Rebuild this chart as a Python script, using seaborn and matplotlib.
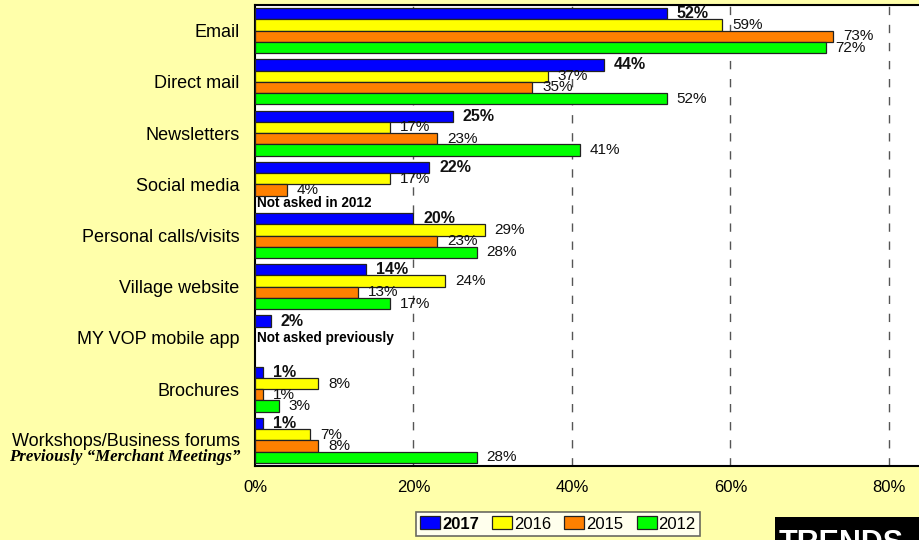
import numpy as np
import pandas as pd
import seaborn as sns
import matplotlib.pyplot as plt
from matplotlib.patches import Rectangle

channels = ['Email', 'Direct mail', 'Newsletters', 'Social media',
            'Personal calls/visits', 'Village website', 'MY VOP mobile app',
            'Brochures', 'Workshops/Business forums']
years = ['2017', '2016', '2015', '2012']
v2017 = [52, 44, 25, 22, 20, 14, 2, 1, 1]
v2016 = [59, 37, 17, 17, 29, 24, None, 8, 7]
v2015 = [73, 35, 23, 4, 23, 13, None, 1, 8]
v2012 = [72, 52, 41, None, 28, 17, None, 3, 28]
colors = ['#0000FF', '#FFFF00', '#FF8000', '#00FF00']
xticks = [0, 20, 40, 60, 80]

rows = []
for yr, vals in zip(years, [v2017, v2016, v2015, v2012]):
    for ch, v in zip(channels, vals):
        rows.append({'channel': ch, 'year': yr, 'pct': v})
df = pd.DataFrame(rows).dropna()

plt.rcParams['font.family'] = ['Liberation Sans', 'DejaVu Sans']

fig = plt.figure(figsize=(9.19, 5.40), dpi=100, facecolor='#FFFFAA')
ax = fig.add_axes([255 / 919, 1 - 466 / 540, 1 - 255 / 919, (466 - 5) / 540])

sns.barplot(data=df, y='channel', x='pct', hue='year', order=channels,
            hue_order=years, palette=colors, orient='h', width=0.88,
            edgecolor='#222222', linewidth=0.9, saturation=1, ax=ax,
            legend=True, zorder=3)

ax.set_facecolor('white')
ax.set_xlim(0, 83.8)
ax.set_ylim(len(channels) - 0.5, -0.5)
ax.set_xticks(xticks)
ax.set_xticklabels([f'{t}%' for t in xticks], fontsize=12)
ax.tick_params(axis='x', length=0, pad=10)
ax.set_yticks(range(len(channels)))
ax.set_yticklabels(channels[:-1] + [''])
ax.tick_params(axis='y', length=0, pad=11, labelsize=13)
ax.set_xlabel('')
ax.set_ylabel('')
for t in xticks[1:]:
    ax.axvline(t, color='#555555', lw=1, ls=(0, (6, 7)), zorder=1)
for s in ['top', 'left', 'bottom']:
    ax.spines[s].set_color('black')
    ax.spines[s].set_linewidth(1.5)
ax.spines['right'].set_visible(False)

for i, c in enumerate(ax.containers):
    bold = i == 0
    ax.bar_label(c, fmt='{:.0f}%', padding=7,
                 fontsize=11.5 if bold else 11,
                 fontweight='bold' if bold else 'normal', color='#111111')

ax.text(0.3, 3.36, 'Not asked in 2012', fontsize=9.8, fontweight='bold',
        va='center', ha='left', zorder=5)
ax.text(0.3, 6.0, 'Not asked previously', fontsize=9.8, fontweight='bold',
        va='center', ha='left', zorder=5)

# two-line label for the last category
ax.text(-0.0225, 8.02, channels[-1], transform=ax.get_yaxis_transform(),
        ha='right', va='center', fontsize=13)
ax.text(-0.0225, 8.32, 'Previously \u201cMerchant Meetings\u201d',
        transform=ax.get_yaxis_transform(), ha='right', va='center',
        fontsize=12.2, fontweight='bold', fontstyle='italic',
        family=['Liberation Serif', 'DejaVu Serif'])

leg = ax.legend(loc='center', bbox_to_anchor=(558 / 919, 1 - 524 / 540),
                bbox_transform=fig.transFigure, ncol=4, frameon=True,
                fancybox=False, edgecolor='#444444', fontsize=12,
                handlelength=1.2, handleheight=0.8, handletextpad=0.1,
                columnspacing=0.8, borderpad=0.25, title=None)
leg.get_frame().set_linewidth(1.2)
for h in leg.legend_handles:
    h.set_edgecolor('#222222')
leg.get_texts()[0].set_fontweight('bold')

fig.patches.append(Rectangle((775 / 919, 0), 1 - 775 / 919, 23 / 540,
                             transform=fig.transFigure, facecolor='black',
                             edgecolor='none'))
fig.text(779 / 919, 1 - 529 / 540, 'TRENDS', color='white', fontsize=22,
         fontweight='bold', ha='left', va='top')

fig.savefig('out.png', dpi=100, facecolor=fig.get_facecolor())
